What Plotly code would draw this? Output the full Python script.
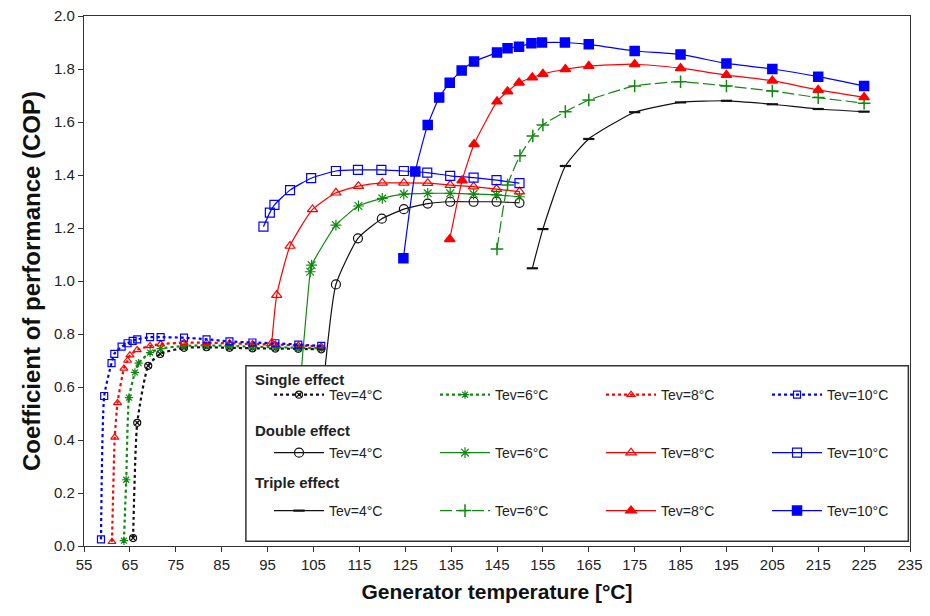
import plotly.graph_objects as go

# ---------------- data ----------------
tev_labels = ["Tev=4°C", "Tev=6°C", "Tev=8°C", "Tev=10°C"]
group_titles = ["Single effect", "Double effect", "Triple effect"]
colors = ["#111111", "#118811", "#ff0000", "#0000ff"]

# Single effect
s4_T = [65.7, 66.6, 69.0, 71.6, 76.8, 81.7, 86.7, 91.7, 96.7, 101.7, 106.7]
s4_C = [0.03, 0.465, 0.68, 0.725, 0.748, 0.75, 0.748, 0.746, 0.745, 0.744, 0.742]
s6_T = [63.7, 64.2, 64.8, 66.1, 66.9, 69.4, 71.7, 76.8, 81.7, 86.7, 91.7, 96.7, 101.7, 106.7]
s6_C = [0.02, 0.25, 0.56, 0.655, 0.69, 0.73, 0.745, 0.755, 0.757, 0.755, 0.752, 0.75, 0.748, 0.746]
s8_T = [61.1, 61.7, 62.3, 63.7, 64.5, 65.0, 66.6, 69.4, 71.7, 76.8, 81.7, 86.7, 91.7, 96.7, 101.7, 106.7]
s8_C = [0.016, 0.41, 0.54, 0.67, 0.70, 0.72, 0.74, 0.755, 0.762, 0.767, 0.767, 0.765, 0.762, 0.76, 0.757, 0.753]
s10_T = [58.7, 59.4, 61.0, 61.6, 63.2, 64.5, 65.6, 66.6, 69.4, 71.7, 76.8, 81.7, 86.7, 91.7, 96.7, 101.7, 106.7]
s10_C = [0.025, 0.566, 0.69, 0.725, 0.752, 0.765, 0.774, 0.78, 0.788, 0.788, 0.786, 0.78, 0.772, 0.768, 0.765, 0.76, 0.755]

# Double effect
d4_T = [106.3, 109.9, 114.7, 119.9, 124.7, 129.9, 134.8, 139.9, 144.9, 149.9]
d4_C = [0.45, 0.987, 1.161, 1.235, 1.271, 1.292, 1.299, 1.299, 1.299, 1.295]
d6_T = [101.3, 104.3, 104.6, 109.9, 114.8, 120.0, 124.7, 129.9, 134.8, 139.9, 144.9, 149.9]
d6_C = [0.45, 1.035, 1.06, 1.211, 1.283, 1.312, 1.328, 1.331, 1.331, 1.328, 1.325, 1.318]
d8_T = [95.9, 97.0, 99.9, 104.8, 109.9, 114.8, 120.0, 124.7, 129.9, 134.8, 139.9, 144.9, 149.9]
d8_C = [0.765, 0.947, 1.132, 1.27, 1.333, 1.358, 1.37, 1.37, 1.369, 1.362, 1.356, 1.347, 1.337]
d10_T = [94.1, 95.5, 96.5, 99.9, 104.5, 109.9, 114.7, 119.8, 124.7, 129.8, 134.8, 139.9, 144.9, 149.9]
d10_C = [1.205, 1.258, 1.287, 1.343, 1.388, 1.415, 1.419, 1.419, 1.415, 1.409, 1.397, 1.39, 1.381, 1.369]

# Triple effect
t4_T = [152.7, 155.0, 159.9, 165.0, 175.0, 185.0, 195.0, 205.0, 215.0, 225.0]
t4_C = [1.048, 1.196, 1.434, 1.536, 1.637, 1.674, 1.680, 1.667, 1.649, 1.639]
t6_T = [145.0, 147.3, 150.0, 152.8, 155.0, 159.9, 165.0, 175.0, 185.0, 195.0, 205.0, 215.0, 225.0]
t6_C = [1.121, 1.362, 1.473, 1.547, 1.589, 1.639, 1.683, 1.736, 1.752, 1.736, 1.717, 1.692, 1.671]
t8_T = [134.7, 137.4, 140.0, 145.0, 147.3, 149.8, 152.7, 155.0, 159.9, 165.0, 175.0, 185.0, 195.0, 205.0, 215.0, 225.0]
t8_C = [1.158, 1.379, 1.516, 1.677, 1.715, 1.748, 1.768, 1.781, 1.799, 1.811, 1.818, 1.803, 1.777, 1.756, 1.721, 1.693]
t10_T = [124.6, 127.2, 129.9, 132.4, 134.7, 137.3, 140.0, 145.0, 147.3, 149.8, 152.5, 154.8, 159.8, 165.0, 175.0, 185.0, 195.0, 205.0, 215.0, 225.0]
t10_C = [1.086, 1.413, 1.589, 1.692, 1.748, 1.794, 1.828, 1.862, 1.878, 1.884, 1.897, 1.90, 1.90, 1.893, 1.868, 1.855, 1.821, 1.80, 1.771, 1.736]

x_ticks = list(range(55, 236, 10))
y_ticks = [0.0, 0.2, 0.4, 0.6, 0.8, 1.0, 1.2, 1.4, 1.6, 1.8, 2.0]

# ---------------- figure ----------------
FONT = "Liberation Sans, Arial, sans-serif"
fig = go.Figure()

single = [(s4_T, s4_C), (s6_T, s6_C), (s8_T, s8_C), (s10_T, s10_C)]
double = [(d4_T, d4_C), (d6_T, d6_C), (d8_T, d8_C), (d10_T, d10_C)]
triple = [(t4_T, t4_C), (t6_T, t6_C), (t8_T, t8_C), (t10_T, t10_C)]

s_sym = ["circle-x-open", "asterisk-open", "triangle-up-open", "square-open"]
d_sym = ["circle-open", "asterisk-open", "triangle-up-open", "square-open"]
t_sym = ["line-ew-open", "cross-thin-open", "triangle-up", "square"]

for i, (T, C) in enumerate(single):
    fig.add_trace(go.Scatter(
        x=T, y=C, mode="lines+markers", name=tev_labels[i], legend="legend",
        line=dict(color=colors[i], width=2.2, dash="dot", shape="spline", smoothing=0.5),
        marker=dict(symbol=s_sym[i], size=7, color=colors[i], line=dict(color=colors[i], width=1.2)),
    ))
for i, (T, C) in enumerate(double):
    fig.add_trace(go.Scatter(
        x=T, y=C, mode="lines+markers", name=tev_labels[i], legend="legend2",
        line=dict(color=colors[i], width=1.2, shape="spline", smoothing=0.5),
        marker=dict(symbol=d_sym[i], size=9, color=colors[i], line=dict(color=colors[i], width=1.2)),
    ))
for i, (T, C) in enumerate(triple):
    fig.add_trace(go.Scatter(
        x=T, y=C, mode="lines+markers", name=tev_labels[i], legend="legend3",
        line=dict(color=colors[i], width=1.2, dash="12px,4px" if i == 1 else "solid",
                  shape="spline", smoothing=0.5),
        marker=dict(symbol=t_sym[i], size=9 if i != 0 else 8, color=colors[i],
                    line=dict(color=colors[i], width=2.2 if i == 0 else 1.5)),
    ))

legend_common = dict(
    orientation="h", xanchor="left", yanchor="top",
    bgcolor="rgba(0,0,0,0)", borderwidth=0,
    font=dict(family=FONT, size=14, color="#222"),
    itemwidth=50, entrywidth=101, entrywidthmode="pixels",
    traceorder="normal",
)

def leg(y):
    d = dict(legend_common)
    d.update(x=0.224, y=y)
    return d

legend_tops = [0.315, 0.2055, 0.0962]
title_ys = [0.315, 0.217, 0.119]
annotations = [
    dict(text="<b>" + t + "</b>", xref="paper", yref="paper", x=0.2045, y=yy,
         xanchor="left", yanchor="middle", showarrow=False,
         font=dict(family=FONT, size=15, color="#222"))
    for t, yy in zip(group_titles, title_ys)
]

fig.update_layout(
    width=930, height=616,
    margin=dict(l=84, r=20, t=16, b=70, autoexpand=False),
    paper_bgcolor="white", plot_bgcolor="white",
    showlegend=True,
    legend=leg(legend_tops[0]),
    legend2=leg(legend_tops[1]),
    legend3=leg(legend_tops[2]),
    annotations=annotations,
    shapes=[dict(type="rect", xref="paper", yref="paper",
                 x0=0.196, x1=0.998, y0=0.009, y1=0.34,
                 line=dict(color="#333", width=1.5), fillcolor="white", layer="above")],
)

fig.update_xaxes(
    range=[55, 235], tickmode="array", tickvals=x_ticks, ticktext=[str(v) for v in x_ticks],
    showgrid=False, zeroline=False, showline=True, linecolor="#333", linewidth=1.2, mirror=True,
    ticks="outside", ticklen=5, tickcolor="#333",
    tickfont=dict(family=FONT, size=15, color="#222"),
    title=dict(text="<b>Generator temperature [°C]</b>", font=dict(family=FONT, size=21, color="#111"), standoff=12),
)
fig.update_yaxes(
    range=[0, 2.0], tickmode="array", tickvals=y_ticks, ticktext=[f"{v:.1f}" for v in y_ticks],
    showgrid=False, zeroline=False, showline=True, linecolor="#333", linewidth=1.2, mirror=True,
    ticks="outside", ticklen=5, tickcolor="#333",
    tickfont=dict(family=FONT, size=15, color="#222"),
    title=dict(text="<b>Coefficient of performance (COP)</b>", font=dict(family=FONT, size=24, color="#111"), standoff=6),
)

fig.write_html("out.html")
